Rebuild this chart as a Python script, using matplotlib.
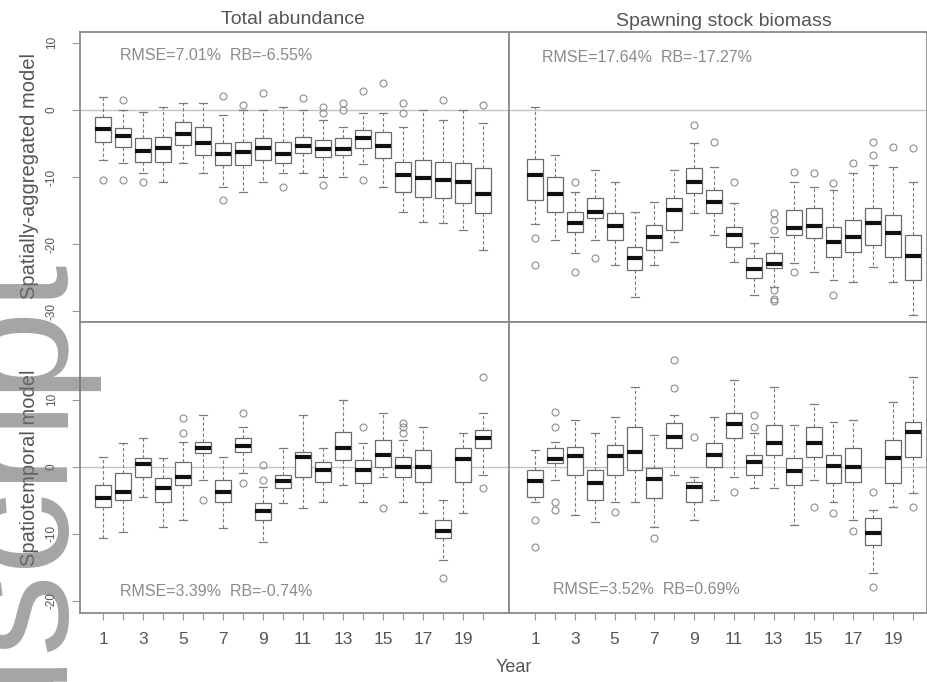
import matplotlib
matplotlib.use("Agg")
import matplotlib.pyplot as plt

# ---------------- data ----------------
years = list(range(1, 21))
year_labels = ["1", "", "3", "", "5", "", "7", "", "9", "", "11", "", "13", "", "15", "", "17", "", "19", ""]

# Total abundance, spatially-aggregated model
ta_agg_med = [-2.8, -3.9, -6.1, -5.7, -3.6, -4.9, -6.6, -6.3, -5.7, -6.6, -5.4, -5.8, -5.8, -4.2, -5.4, -9.7, -10.1, -10.4, -10.7, -12.5]
ta_agg_q1 = [-4.8, -5.5, -7.8, -7.8, -5.2, -6.7, -8.2, -8.2, -7.5, -7.9, -6.4, -7.0, -6.7, -5.7, -7.2, -12.2, -13.0, -13.1, -13.9, -15.4]
ta_agg_q3 = [-1.0, -2.7, -4.2, -4.0, -1.8, -2.5, -4.9, -4.8, -4.2, -4.8, -4.0, -4.5, -4.2, -3.0, -3.3, -7.8, -7.5, -7.8, -7.9, -8.7]
ta_agg_lo = [-7.5, -7.9, -9.4, -10.7, -7.9, -9.4, -11.5, -12.2, -10.7, -9.4, -9.4, -10.0, -10.0, -8.0, -11.5, -15.2, -16.7, -16.9, -17.9, -20.9]
ta_agg_hi = [1.9, 0.0, -0.3, 0.5, 1.0, 1.0, -0.7, 0.0, 0.0, 0.5, 0.0, -1.5, -2.5, -0.5, -0.5, -2.5, 0.0, -1.5, 0.0, -2.0]
ta_agg_out = [[-10.5], [1.5, -10.4], [-10.7], [], [], [], [2.0, -13.4], [0.7], [2.5], [-11.5], [1.8],
              [0.4, -0.4, -11.2], [1.0, 0.0], [2.8, -10.4], [4.0], [-0.4, 1.0], [], [1.5], [], [0.7]]

# Spawning stock biomass, spatially-aggregated model
ssb_agg_med = [-9.7, -12.5, -16.9, -15.2, -17.3, -22.1, -19.0, -14.9, -10.7, -13.7, -18.7, -23.7, -23.0, -17.6, -17.3, -19.7, -19.0, -16.9, -18.4, -21.8]
ssb_agg_q1 = [-13.4, -15.2, -18.2, -16.1, -19.4, -23.9, -20.9, -17.9, -12.4, -15.4, -20.4, -25.1, -23.6, -18.7, -19.1, -21.9, -21.2, -20.1, -21.9, -25.4]
ssb_agg_q3 = [-7.3, -10.0, -15.2, -13.1, -15.4, -20.4, -17.2, -13.1, -8.7, -11.9, -17.5, -22.1, -21.3, -14.9, -14.6, -17.5, -16.4, -14.6, -15.7, -18.7]
ssb_agg_lo = [-17.0, -19.4, -21.3, -19.4, -23.1, -27.9, -23.1, -19.7, -15.4, -18.7, -22.7, -27.6, -26.4, -22.8, -24.2, -25.4, -25.7, -23.4, -25.7, -30.5]
ssb_agg_hi = [0.5, -6.7, -12.2, -9.0, -10.7, -15.2, -13.7, -9.0, -4.9, -8.5, -13.9, -19.9, -19.0, -10.7, -11.5, -12.0, -9.4, -8.2, -8.5, -10.7]
ssb_agg_out = [[-19.1, -23.1], [], [-10.7, -24.2], [-22.1], [], [], [], [], [-2.2], [-4.8], [-10.7], [],
               [-15.4, -16.4, -17.9, -26.9, -28.1, -28.4], [-9.3, -24.2], [-9.4], [-10.9, -27.6], [-7.9],
               [-4.8, -6.7], [-5.5], [-5.7]]

# Total abundance, spatiotemporal model
ta_st_med = [-4.6, -3.7, 0.4, -3.1, -1.5, 2.8, -3.7, 3.1, -6.6, -2.1, 1.5, -0.4, 2.8, -0.4, 1.8, 0.0, 0.0, -9.6, 1.2, 4.3]
ta_st_q1 = [-6.0, -4.9, -1.5, -5.2, -2.7, 2.1, -5.2, 2.2, -7.9, -3.1, -1.5, -2.2, 1.0, -2.4, 0.0, -1.5, -2.2, -10.6, -2.2, 2.8]
ta_st_q3 = [-2.7, -0.9, 1.3, -1.6, 0.7, 3.7, -1.9, 4.3, -5.4, -1.2, 2.2, 0.7, 5.2, 1.0, 4.0, 1.5, 2.5, -7.9, 2.8, 5.5]
ta_st_lo = [-10.6, -9.7, -4.5, -9.0, -7.9, -1.9, -9.1, -0.9, -11.2, -5.4, -6.1, -5.2, -2.7, -5.2, -1.5, -5.2, -6.9, -13.9, -6.9, -1.2]
ta_st_hi = [1.5, 3.6, 4.3, 1.3, 3.7, 7.8, 1.5, 6.0, -3.0, 2.8, 7.8, 2.8, 10.0, 3.5, 8.1, 4.0, 6.0, -4.9, 5.1, 8.1]
ta_st_out = [[], [], [], [], [7.3, 5.1], [-4.9], [], [8.1, -2.4], [0.3, -1.9], [], [], [], [], [6.0], [-6.1],
             [5.1, 6.0, 6.6], [], [-16.6], [], [13.4, -3.1]]

# Spawning stock biomass, spatiotemporal model
ssb_st_med = [-2.1, 1.2, 1.6, -2.4, 1.6, 2.2, -1.8, 4.5, -3.0, 1.8, 6.4, 0.7, 3.6, -0.6, 3.6, 0.1, 0.0, -9.9, 1.3, 5.2]
ssb_st_q1 = [-4.5, 0.6, -1.2, -4.9, -1.2, -0.4, -4.6, 2.8, -5.2, 0.0, 4.3, -1.2, 1.8, -2.7, 1.5, -2.4, -2.2, -11.6, -2.4, 1.5]
ssb_st_q3 = [-0.4, 2.8, 3.0, -0.4, 3.3, 6.0, -0.1, 6.6, -2.2, 3.6, 8.1, 1.8, 6.3, 1.3, 6.0, 1.8, 2.8, -7.6, 4.0, 6.7]
ssb_st_lo = [-5.2, -1.9, -7.2, -8.2, -5.2, -5.2, -9.0, -1.2, -7.9, -4.9, -1.5, -3.1, -3.1, -8.7, -1.9, -5.2, -7.9, -15.8, -6.0, -3.9]
ssb_st_hi = [2.5, 3.7, 7.0, 5.1, 7.5, 11.9, 4.8, 7.8, -1.5, 7.5, 13.0, 5.0, 11.9, 6.3, 9.3, 6.7, 7.0, -6.4, 9.7, 13.4]
ssb_st_out = [[-7.9, -11.9], [8.2, 6.0, -5.2, -6.4], [], [], [-6.7], [], [-10.6], [11.8, 16.0], [4.5], [], [-3.7],
              [7.8, 6.0], [], [], [-6.0], [-6.9], [-9.6], [-3.7, -17.9], [], [-6.0]]

titles = ["Total abundance", "Spawning stock biomass"]
row_labels = ["Spatially-aggregated model", "Spatiotemporal model"]
stats_text = ["RMSE=7.01%  RB=-6.55%", "RMSE=17.64%  RB=-17.27%",
              "RMSE=3.39%  RB=-0.74%", "RMSE=3.52%  RB=0.69%"]
top_yticks = [10, 0, -10, -20, -30]
bot_yticks = [10, 0, -10, -20]
x_label = "Year"
watermark = "Manuscript"

# ---------------- figure ----------------
plt.rcParams["font.family"] = ["Liberation Sans", "DejaVu Sans"]
W, H = 927, 682
fig = plt.figure(figsize=(W / 100, H / 100), dpi=100)


def rect(x0, y0, x1, y1):
    return [x0 / W, 1 - y1 / H, (x1 - x0) / W, (y1 - y0) / H]


FRAME = "#8a8a8a"
TXT = "#555555"


def make_stats(med, q1, q3, lo, hi, out):
    return [dict(med=m, q1=a, q3=b, whislo=l, whishi=h, fliers=o)
            for m, a, b, l, h, o in zip(med, q1, q3, lo, hi, out)]


panels = [
    (rect(80, 32, 509, 322), make_stats(ta_agg_med, ta_agg_q1, ta_agg_q3, ta_agg_lo, ta_agg_hi, ta_agg_out),
     (-0.15, 21.3), (-31.6, 11.6), top_yticks, True, False),
    (rect(509, 32, 927, 322), make_stats(ssb_agg_med, ssb_agg_q1, ssb_agg_q3, ssb_agg_lo, ssb_agg_hi, ssb_agg_out),
     (-0.31, 20.7), (-31.6, 11.6), top_yticks, False, False),
    (rect(80, 322, 509, 613), make_stats(ta_st_med, ta_st_q1, ta_st_q3, ta_st_lo, ta_st_hi, ta_st_out),
     (-0.15, 21.3), (-21.8, 21.6), bot_yticks, True, True),
    (rect(509, 322, 927, 613), make_stats(ssb_st_med, ssb_st_q1, ssb_st_q3, ssb_st_lo, ssb_st_hi, ssb_st_out),
     (-0.31, 20.7), (-21.8, 21.6), bot_yticks, False, True),
]

axes = []
for pos, stats, xl, yl, yt, show_y, show_x in panels:
    ax = fig.add_axes(pos)
    axes.append(ax)
    ax.axhline(0, color="#c4c4c4", lw=1.0, zorder=0)
    ax.bxp(stats, positions=years, widths=0.8, capwidths=0.4, patch_artist=True,
           boxprops=dict(facecolor="white", edgecolor="#6a6a6a", lw=0.9),
           medianprops=dict(color="#111111", lw=3.0, solid_capstyle="butt"),
           whiskerprops=dict(color="#7a7a7a", lw=0.8, ls=(0, (3, 2))),
           capprops=dict(color="#7a7a7a", lw=0.9),
           flierprops=dict(marker="o", markersize=5, markerfacecolor="none",
                           markeredgecolor="#8c8c8c", markeredgewidth=0.8))
    ax.set_xlim(*xl)
    ax.set_ylim(*yl)
    for s in ax.spines.values():
        s.set_color(FRAME)
        s.set_linewidth(1.3)
    if show_x:
        ax.set_xticks(years)
        ax.set_xticklabels(year_labels)
        ax.tick_params(axis="x", length=5, width=0.8, color="#999999", pad=9,
                       labelsize=12.5, labelcolor=TXT)
    else:
        ax.set_xticks([])
    if show_y:
        ax.set_yticks(yt)
        ax.set_yticklabels([str(v) for v in yt], rotation=90, va="center")
        ax.tick_params(axis="y", length=6, width=0.8, color="#999999", pad=10,
                       labelsize=8.5, labelcolor=TXT)
    else:
        ax.set_yticks([])

# titles
fig.text(293 / W, 1 - 20 / H, titles[0], ha="center", va="center", fontsize=14, color=TXT)
fig.text(724 / W, 1 - 21 / H, titles[1], ha="center", va="center", fontsize=14, color=TXT)

# row labels
fig.text(30 / W, 1 - 176 / H, row_labels[0], rotation=90, ha="center", va="center", fontsize=14.5, color=TXT)
fig.text(30 / W, 1 - 468 / H, row_labels[1], rotation=90, ha="center", va="center", fontsize=14.5, color=TXT)

# x label
fig.text(514 / W, 1 - 668 / H, x_label, ha="center", va="center", fontsize=13, color=TXT)

# stats annotations
for (x, y), s in zip([(120, 55), (542, 57), (120, 591), (553, 590)], stats_text):
    fig.text(x / W, 1 - y / H, s, ha="left", va="center", fontsize=11.5, color="#8a8a8a")

# watermark (large grey vertical text at the left edge of the page)
fig.text(55 / W, 1 - 250 / H, watermark, rotation=90, rotation_mode="anchor", ha="right",
         va="baseline", fontsize=118, color="#6e6e6e", alpha=0.62, zorder=10)

fig.savefig("out.png", dpi=100)
